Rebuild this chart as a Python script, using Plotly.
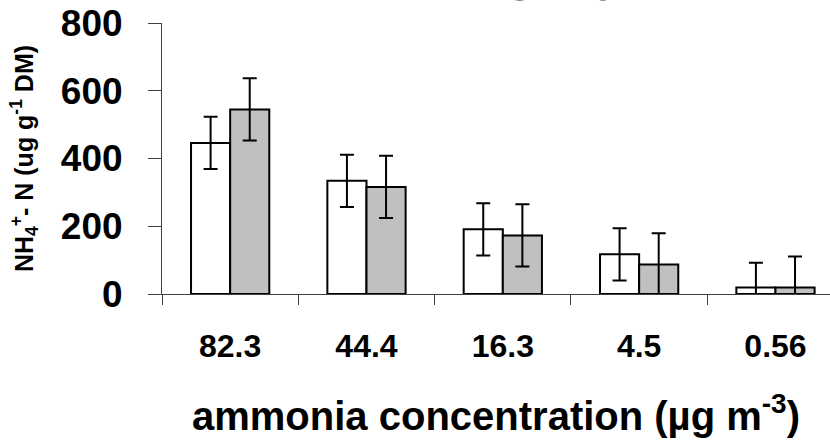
import plotly.graph_objects as go

categories = ["82.3", "44.4", "16.3", "4.5", "0.56"]
white_vals = [446, 334, 191, 117, 19]
white_err = [77, 77, 77, 77, 73]
gray_vals = [545, 316, 173, 87, 19]
gray_err = [92, 92, 92, 92, 92]
y_ticks = [0, 200, 400, 600, 800]

FONT = "Liberation Sans, Arial, sans-serif"
xpos = list(range(len(categories)))

fig = go.Figure()
fig.add_trace(go.Bar(
    x=xpos, y=white_vals, name="white",
    marker=dict(color="white", line=dict(color="black", width=2)),
    error_y=dict(type="data", array=white_err, color="black", thickness=2, width=7),
))
fig.add_trace(go.Bar(
    x=xpos, y=gray_vals, name="gray",
    marker=dict(color="#c0c0c0", line=dict(color="black", width=2)),
    error_y=dict(type="data", array=gray_err, color="black", thickness=2, width=7),
))

fig.update_layout(
    width=830, height=440,
    margin=dict(l=162, r=0, t=23, b=146),
    paper_bgcolor="white", plot_bgcolor="white",
    showlegend=False,
    barmode="group", bargap=0.426, bargroupgap=0,
    font=dict(family=FONT, color="black"),
)
fig.update_xaxes(
    range=[-0.5, 4.4],
    tickmode="array", tickvals=xpos, ticktext=categories,
    ticks="", ticklabelstandoff=24,
    tickfont=dict(size=32, family=FONT, weight="bold"),
    showline=True, linecolor="#404040", linewidth=1,
    showgrid=False, zeroline=False,
    minor=dict(tickmode="array", tickvals=[-0.5, 0.5, 1.5, 2.5, 3.5],
               ticks="outside", ticklen=10, tickcolor="#404040", tickwidth=1, showgrid=False),
    title=dict(text="ammonia concentration (µg m<sup>-3</sup>)",
               font=dict(size=40, family=FONT, weight="bold"), standoff=38),
)
fig.update_yaxes(
    range=[0, 800],
    tickmode="array", tickvals=y_ticks,
    ticks="outside", ticklen=13, tickcolor="#404040", tickwidth=1,
    ticklabelstandoff=18,
    tickfont=dict(size=37, family=FONT, weight="bold"),
    showline=True, linecolor="#404040", linewidth=1,
    showgrid=False, zeroline=False,
    title=dict(text="NH<sub>4</sub><sup>+</sup>- N (ug g<sup>-1</sup> DM)",
               font=dict(size=25, family=FONT, weight="bold"), standoff=20),
)
fig.add_annotation(
    text="Ammonium", xref="paper", yref="paper", x=0.53, y=1.034,
    xanchor="center", yanchor="bottom", showarrow=False,
    font=dict(size=58, family=FONT, weight="bold", color="black"),
)
fig.write_html("out.html")
